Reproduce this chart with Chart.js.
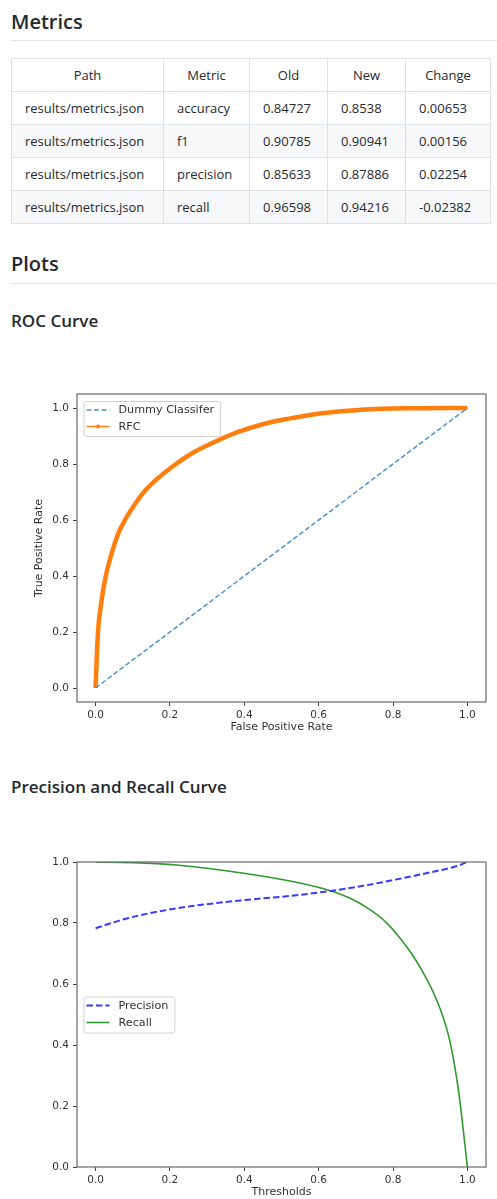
<!DOCTYPE html>
<html>
<head>
<meta charset="utf-8">
<script src="https://cdn.jsdelivr.net/npm/chart.js@4.4.0/dist/chart.umd.min.js"></script>
<style>
  body { margin: 0; background: #fff; font-family: "Open Sans", sans-serif; color: #24292e; width: 497px; height: 1199px; overflow: hidden; position: relative; }
  .h2 { position: absolute; left: 11px; font-size: 20px; font-weight: 600; line-height: 1; white-space: nowrap; }
  .h3 { position: absolute; left: 11px; font-size: 17px; font-weight: 600; line-height: 1; white-space: nowrap; }
  .rule { position: absolute; left: 11px; right: 0; height: 1px; background: #e4e6e9; }
  table { position: absolute; left: 11px; top: 58px; width: 479px; border-collapse: collapse; table-layout: fixed; font-size: 13px; }
  th, td { border: 1px solid #dfe2e5; padding: 0 13px; height: 32px; white-space: nowrap; }
  th { font-weight: 400; text-align: center; }
  td { text-align: left; }
  tbody tr:nth-child(2n) { background: #f6f8fa; }
  .box { position: absolute; left: 0; width: 497px; }
</style>
</head>
<body>
<div class="h2" style="top:12px">Metrics</div>
<div class="rule" style="top:40px"></div>
<table id="metrics">
  <colgroup><col style="width:152px"><col style="width:86px"><col style="width:78px"><col style="width:78px"><col style="width:85px"></colgroup>
  <thead><tr><th>Path</th><th>Metric</th><th>Old</th><th>New</th><th>Change</th></tr></thead>
  <tbody></tbody>
</table>
<div class="h2" style="top:254px">Plots</div>
<div class="rule" style="top:283px"></div>
<div class="h3" style="top:312px">ROC Curve</div>
<div class="box" style="top:380px;height:360px"><canvas id="roc"></canvas></div>
<div class="h3" style="top:778px">Precision and Recall Curve</div>
<div class="box" style="top:848px;height:351px"><canvas id="pr"></canvas></div>

<script>
// metrics table
const metricPaths = ['results/metrics.json', 'results/metrics.json', 'results/metrics.json', 'results/metrics.json'];
const metricNames = ['accuracy', 'f1', 'precision', 'recall'];
const oldValues = ['0.84727', '0.90785', '0.85633', '0.96598'];
const newValues = ['0.8538', '0.90941', '0.87886', '0.94216'];
const changeValues = ['0.00653', '0.00156', '0.02254', '-0.02382'];

// ROC curve
const dummyFpr = [0, 1];
const dummyTpr = [0, 1];
const rfcFpr = [0, 0.0027, 0.0072, 0.0135, 0.025, 0.043, 0.061, 0.079, 0.102, 0.128, 0.164, 0.209, 0.263, 0.317, 0.38, 0.452, 0.52, 0.59, 0.68, 0.77, 0.86, 1.0];
const rfcTpr = [0, 0.095, 0.215, 0.288, 0.384, 0.48, 0.552, 0.60, 0.649, 0.697, 0.745, 0.793, 0.841, 0.877, 0.913, 0.943, 0.962, 0.978, 0.99, 0.997, 0.999, 1.0];

// precision / recall vs threshold
const precThresh = [0, 0.084, 0.218, 0.398, 0.5, 0.632, 0.72, 0.81, 0.9, 0.972, 1.0];
const precValues = [0.783, 0.815, 0.848, 0.875, 0.886, 0.905, 0.922, 0.943, 0.966, 0.987, 1.0];
const recThresh = [0, 0.1, 0.218, 0.398, 0.533, 0.631, 0.685, 0.739, 0.784, 0.819, 0.855, 0.882, 0.91, 0.935, 0.954, 0.977, 1.0];
const recValues = [1.0, 0.998, 0.99, 0.963, 0.935, 0.906, 0.881, 0.843, 0.799, 0.75, 0.69, 0.635, 0.568, 0.49, 0.406, 0.242, 0.0];

const tickValues = [0, 0.2, 0.4, 0.6, 0.8, 1.0];

const tbody = document.querySelector('#metrics tbody');
metricNames.forEach((m, i) => {
  const tr = document.createElement('tr');
  [metricPaths[i], m, oldValues[i], newValues[i], changeValues[i]].forEach(v => {
    const td = document.createElement('td');
    td.textContent = v;
    tr.appendChild(td);
  });
  tbody.appendChild(tr);
});

Chart.defaults.font.family = 'DejaVu Sans';
Chart.defaults.color = '#333';

const pts = (xs, ys) => xs.map((x, i) => ({ x: x, y: ys[i] }));

// matplotlib style frame round the plot area
const frame = {
  id: 'frame',
  afterDatasetsDraw(chart) {
    const { ctx, chartArea: a } = chart;
    ctx.save();
    ctx.strokeStyle = '#6a6a6a';
    ctx.lineWidth = 1.2;
    ctx.strokeRect(a.left, a.top, a.right - a.left, a.bottom - a.top);
    ctx.restore();
  }
};

// legend box inside the plot, like plt.legend()
const boxLegend = {
  id: 'boxLegend',
  afterDatasetsDraw(chart, args, opts) {
    const { ctx, chartArea: a } = chart;
    const sets = chart.data.datasets;
    ctx.save();
    ctx.font = '11.2px "DejaVu Sans"';
    const textW = Math.max(...sets.map(d => ctx.measureText(d.label).width));
    const w = 3 + 23 + 9 + textW + 6;
    const h = sets.length * opts.rowH + 2;
    const left = a.left + 6.5;
    const top = opts.loc === 'center left' ? (a.top + a.bottom) / 2 - h / 2 : a.top + 7;
    ctx.fillStyle = 'rgba(255,255,255,0.8)';
    ctx.strokeStyle = '#d0d0d0';
    ctx.lineWidth = 1;
    ctx.beginPath();
    ctx.roundRect(left + 0.5, top + 0.5, w, h, 2.5);
    ctx.fill();
    ctx.stroke();
    sets.forEach((d, i) => {
      const cy = top + 9 + i * opts.rowH;
      ctx.strokeStyle = d.borderColor;
      ctx.lineWidth = d.legendWidth || d.borderWidth;
      ctx.setLineDash(d.borderDash || []);
      ctx.beginPath();
      ctx.moveTo(left + 3, cy);
      ctx.lineTo(left + 26, cy);
      ctx.stroke();
      ctx.setLineDash([]);
      if (d.legendDot) {
        ctx.fillStyle = d.borderColor;
        ctx.beginPath();
        ctx.arc(left + 14.5, cy, 2, 0, Math.PI * 2);
        ctx.fill();
      }
      ctx.fillStyle = '#333';
      ctx.textBaseline = 'middle';
      ctx.fillText(d.label, left + 35, cy + 0.5);
    });
    ctx.restore();
  }
};

function axis(min, max, title, titlePad, fitSize, horizontal) {
  return {
    type: 'linear',
    min: min,
    max: max,
    afterBuildTicks: s => { s.ticks = tickValues.map(v => ({ value: v })); },
    afterFit: s => { if (horizontal) s.height = fitSize; else s.width = fitSize; },
    ticks: {
      callback: v => v.toFixed(1),
      autoSkip: false,
      maxRotation: 0,
      padding: horizontal ? 3 : 4,
      color: '#333',
      font: { size: 10.5 }
    },
    grid: { drawOnChartArea: false, drawTicks: true, tickLength: 4, color: '#444' },
    border: { display: false },
    title: {
      display: !!title,
      text: title,
      color: '#333',
      font: { size: 11 },
      padding: titlePad
    }
  };
}

new Chart(document.getElementById('roc'), {
  type: 'scatter',
  data: {
    datasets: [
      {
        label: 'Dummy Classifer',
        data: pts(dummyFpr, dummyTpr),
        showLine: true,
        borderColor: '#4f93cf',
        borderWidth: 1.5,
        borderDash: [5, 2.5],
        pointRadius: 0
      },
      {
        label: 'RFC',
        data: pts(rfcFpr, rfcTpr),
        showLine: true,
        borderColor: '#ff7f0e',
        borderWidth: 4.5,
        legendWidth: 1.5,
        legendDot: true,
        cubicInterpolationMode: 'monotone',
        pointRadius: 0
      }
    ]
  },
  options: {
    responsive: true,
    maintainAspectRatio: false,
    animation: false,
    layout: { padding: { left: 0, top: 14, right: 11, bottom: 0 } },
    plugins: {
      legend: { display: false },
      tooltip: { enabled: false },
      boxLegend: { loc: 'upper left', rowH: 16.5 }
    },
    scales: {
      x: axis(-0.05, 1.05, 'False Positive Rate', { top: 0, bottom: 6 }, 38, true),
      y: axis(-0.05, 1.05, 'True Positive Rate', { top: 33, bottom: 0 }, 77, false)
    }
  },
  plugins: [frame, boxLegend]
});

new Chart(document.getElementById('pr'), {
  type: 'scatter',
  data: {
    datasets: [
      {
        label: 'Precision',
        data: pts(precThresh, precValues),
        showLine: true,
        borderColor: '#3a3aff',
        borderWidth: 2,
        borderDash: [6.5, 3],
        cubicInterpolationMode: 'monotone',
        pointRadius: 0
      },
      {
        label: 'Recall',
        data: pts(recThresh, recValues),
        showLine: true,
        borderColor: '#2f9a2f',
        borderWidth: 1.6,
        cubicInterpolationMode: 'monotone',
        pointRadius: 0
      }
    ]
  },
  options: {
    responsive: true,
    maintainAspectRatio: false,
    animation: false,
    layout: { padding: { left: 0, top: 14, right: 11, bottom: 0 } },
    plugins: {
      legend: { display: false },
      tooltip: { enabled: false },
      boxLegend: { loc: 'center left', rowH: 17 }
    },
    scales: {
      x: axis(-0.05, 1.05, 'Thresholds', { top: 0, bottom: 0 }, 32, true),
      y: axis(0, 1, '', 0, 77, false)
    }
  },
  plugins: [frame, boxLegend]
});
</script>
</body>
</html>
